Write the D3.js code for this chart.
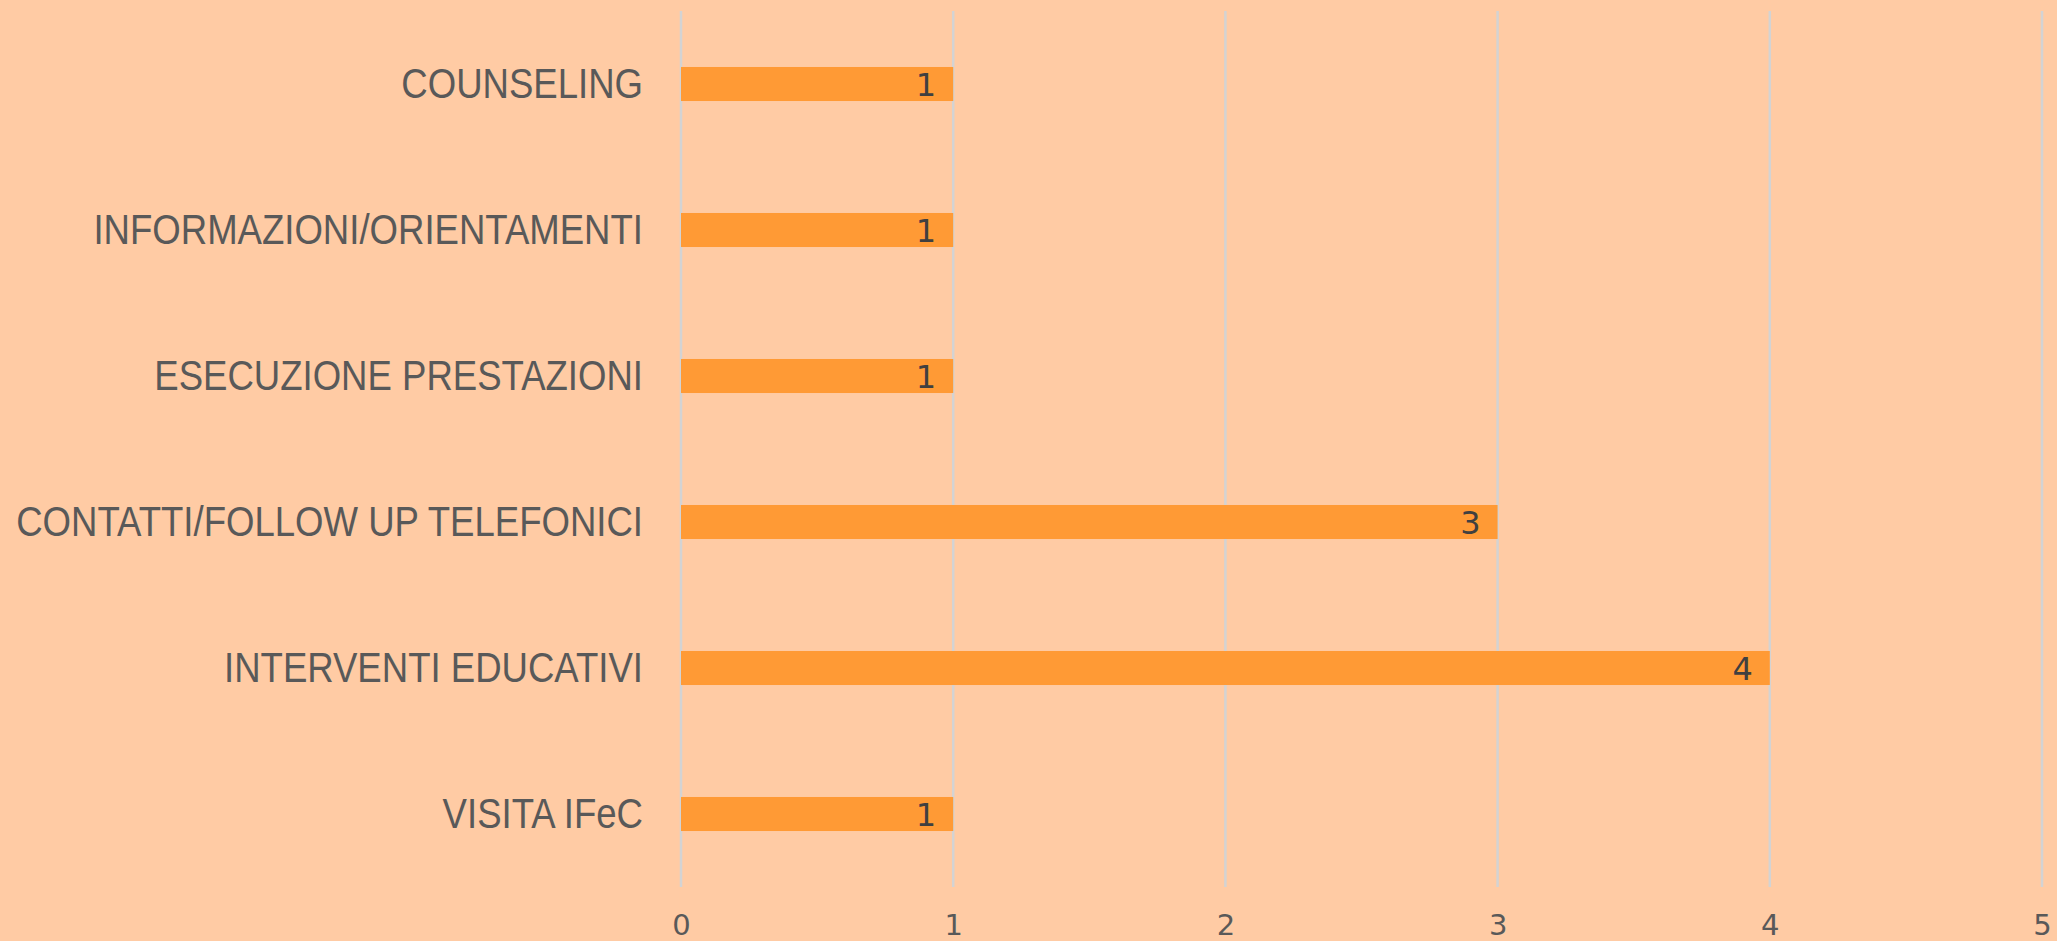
<!DOCTYPE html>
<html>
<head>
<meta charset="utf-8">
<script src="https://cdn.jsdelivr.net/npm/d3@7"></script>
<style>
  body { margin: 0; background: #ffcba4; }
  svg { display: block; }
</style>
</head>
<body>
<div id="chart"></div>
<script>
// categories top to bottom
const categories = ["COUNSELING", "INFORMAZIONI/ORIENTAMENTI", "ESECUZIONE PRESTAZIONI",
                    "CONTATTI/FOLLOW UP TELEFONICI", "INTERVENTI EDUCATIVI", "VISITA IFeC"];
const values = [1, 1, 1, 3, 4, 1];
const xTicks = [0, 1, 2, 3, 4, 5];

const W = 2057, H = 941;
const plotL = 681, plotR = 2042, plotT = 11, plotB = 887;

const svg = d3.select("#chart").append("svg")
  .attr("width", W).attr("height", H);

svg.append("rect").attr("width", W).attr("height", H).attr("fill", "#ffcba4");

const x = d3.scaleLinear().domain([0, 5]).range([plotL, plotR]);
const y = d3.scaleBand().domain(categories).range([plotT, plotB]).paddingInner(0.767).paddingOuter(0.3835);

// gridlines
svg.selectAll(".grid").data(xTicks).enter().append("line")
  .attr("x1", d => x(d)).attr("x2", d => x(d))
  .attr("y1", plotT).attr("y2", plotB)
  .attr("stroke", "#d3d3d3").attr("stroke-width", 2.5);

// bars
svg.selectAll(".bar").data(values).enter().append("rect")
  .attr("x", x(0))
  .attr("y", (d, i) => y(categories[i]))
  .attr("width", d => x(d) - x(0))
  .attr("height", y.bandwidth())
  .attr("fill", "#ff9a35");

// value labels
svg.selectAll(".val").data(values).enter().append("text")
  .attr("x", d => x(d) - 17)
  .attr("y", (d, i) => y(categories[i]) + y.bandwidth() / 2)
  .attr("dy", "0.36em")
  .attr("text-anchor", "end")
  .attr("font-family", "DejaVu Sans, sans-serif")
  .attr("font-size", 32)
  .attr("fill", "#404040")
  .text(d => d);

// category labels (condensed look: squeeze horizontally)
const cats = svg.selectAll(".cat").data(categories).enter().append("text")
  .attr("text-anchor", "end")
  .attr("dy", "0.34em")
  .attr("font-family", "'Liberation Sans', Arial, sans-serif")
  .attr("font-size", 42)
  .attr("fill", "#595959")
  .text(d => d);
let longest = 0;
cats.each(function(){ longest = Math.max(longest, this.getComputedTextLength()) });
const squeeze = 627 / longest;
cats.attr("transform", d => "translate(643," + (y(d) + y.bandwidth() / 2) + ") scale(" + squeeze + ",1)");

// x axis tick labels
const xAxis = d3.axisBottom(x).tickValues(xTicks).tickSize(0).tickPadding(0).tickFormat(d3.format("d"));
const gx = svg.append("g").attr("transform", "translate(0," + 914 + ")").call(xAxis);
gx.select(".domain").remove();
gx.selectAll("text")
  .attr("font-family", "DejaVu Sans, sans-serif")
  .attr("font-size", 29)
  .attr("fill", "#595959")
  .attr("dy", "0.71em");
</script>
</body>
</html>
